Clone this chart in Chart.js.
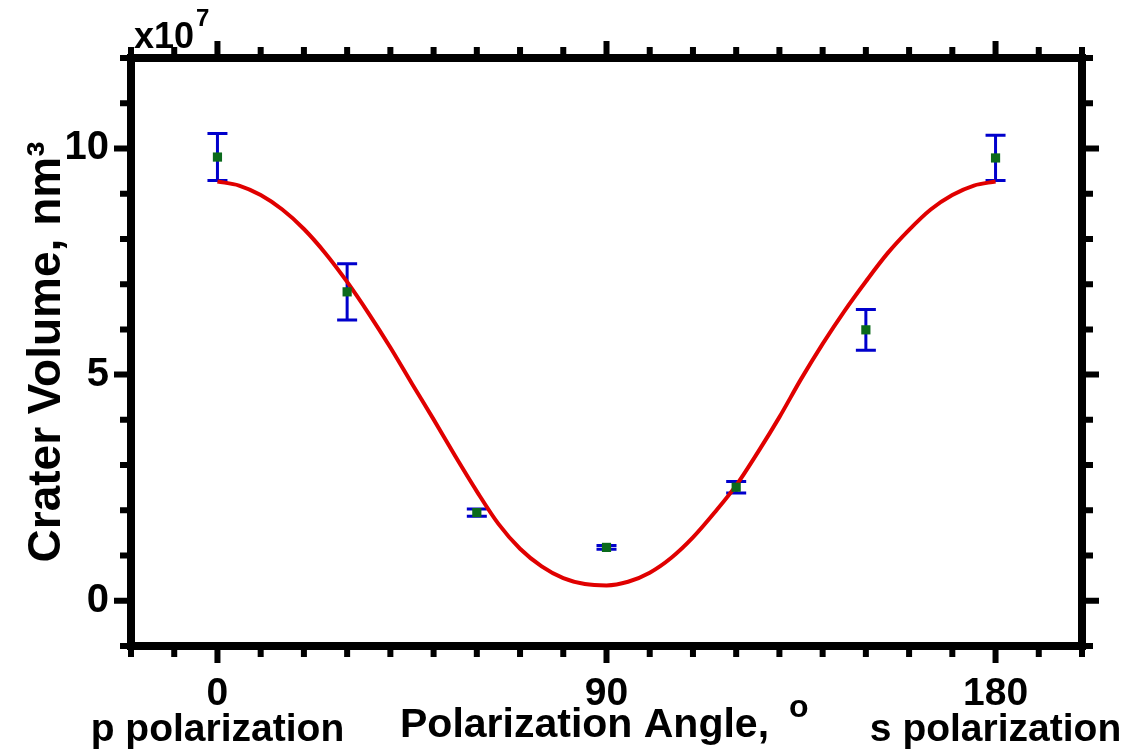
<!DOCTYPE html>
<html><head><meta charset="utf-8">
<script src="https://cdn.jsdelivr.net/npm/chart.js@4.4.0/dist/chart.umd.min.js"></script>
<style>html,body{margin:0;padding:0;background:#fff;}canvas{display:block;}</style>
</head><body>
<canvas id="c" width="1127" height="749"></canvas>
<script>
// ---- data ----
const angles = [0, 30, 60, 90, 120, 150, 180];
const volume = [9.81, 6.83, 1.95, 1.18, 2.51, 5.99, 9.79];      // x10^7 nm^3
const volumeErr = [0.52, 0.62, 0.08, 0.04, 0.125, 0.45, 0.50];

const fitAngles = [0,5,10,15,20,25,30,35,40,45,50,55,60,65,70,75,80,85,90,
                   95,100,105,110,115,120,125,130,135,140,145,150,155,160,165,170,175,180];
const fitVolume = [9.27,9.18,8.97,8.65,8.22,7.68,7.05,6.35,5.60,4.80,4.01,3.20,2.42,1.70,1.15,0.76,0.50,0.37,0.34,
                   0.42,0.62,0.95,1.40,1.95,2.55,3.28,4.06,4.90,5.68,6.40,7.06,7.68,8.20,8.65,8.97,9.18,9.27];

const xTickValues = [0, 90, 180];
const xTickLabels = ['0', '90', '180'];
const xTickSubLabels = ['p polarization', '', 's polarization'];
const yTickValues = [0, 5, 10];
const yTickLabels = ['0', '5', '10'];
const xRange = [-20, 200];
const yRange = [-1, 12];
const xMinorStep = 10;
const yMinorStep = 1;

const xTitle = 'Polarization Angle,';
const xTitleSup = 'o';
const yTitle = 'Crater Volume, nm\u00B3';
const scaleText = 'x10';
const scaleSup = '7';

const FONT = '"Liberation Sans", Arial, Helvetica, sans-serif';

const decorPlugin = {
  id: 'decor',
  beforeDatasetsDraw(chart) {
    const {ctx, scales: {x, y}} = chart;
    ctx.save();
    ctx.strokeStyle = '#0000cc';
    ctx.lineWidth = 3;
    angles.forEach((a, i) => {
      const px = x.getPixelForValue(a);
      const top = y.getPixelForValue(volume[i] + volumeErr[i]);
      const bot = y.getPixelForValue(volume[i] - volumeErr[i]);
      ctx.beginPath();
      ctx.moveTo(px, top); ctx.lineTo(px, bot);
      ctx.moveTo(px - 10, top); ctx.lineTo(px + 10, top);
      ctx.moveTo(px - 10, bot); ctx.lineTo(px + 10, bot);
      ctx.stroke();
    });
    ctx.restore();
  },
  afterDraw(chart) {
    const {ctx, chartArea: ca, scales: {x, y}} = chart;
    ctx.save();
    ctx.strokeStyle = '#000';
    ctx.lineWidth = 8;
    ctx.strokeRect(ca.left, ca.top, ca.right - ca.left, ca.bottom - ca.top);
    ctx.lineWidth = 6;
    const half = 4;
    for (let v = xRange[0]; v <= xRange[1] + 1e-9; v += xMinorStep) {
      const px = x.getPixelForValue(v);
      const len = xTickValues.includes(v) ? 13 : 7;
      ctx.beginPath();
      ctx.moveTo(px, ca.bottom); ctx.lineTo(px, ca.bottom + half + len);
      ctx.moveTo(px, ca.top); ctx.lineTo(px, ca.top - half - len);
      ctx.stroke();
    }
    for (let v = yRange[0]; v <= yRange[1] + 1e-9; v += yMinorStep) {
      const py = y.getPixelForValue(v);
      const len = yTickValues.includes(v) ? 13 : 7;
      ctx.beginPath();
      ctx.moveTo(ca.left, py); ctx.lineTo(ca.left - half - len, py);
      ctx.moveTo(ca.right, py); ctx.lineTo(ca.right + half + len, py);
      ctx.stroke();
    }
    // x axis title
    ctx.fillStyle = '#000';
    ctx.textBaseline = 'alphabetic';
    ctx.textAlign = 'left';
    ctx.font = 'bold 41px ' + FONT;
    const tx = 400, ty = 737;
    ctx.fillText(xTitle, tx, ty);
    const w = ctx.measureText(xTitle).width;
    ctx.font = 'bold 32px ' + FONT;
    ctx.fillText(xTitleSup, tx + w + 20, 717);
    // scale multiplier
    ctx.font = 'bold 36px ' + FONT;
    ctx.fillText(scaleText, 134, 48);
    const w2 = ctx.measureText(scaleText).width;
    ctx.font = 'bold 24px ' + FONT;
    ctx.fillText(scaleSup, 134 + w2 + 2, 26);
    ctx.restore();
  }
};

new Chart(document.getElementById('c'), {
  type: 'scatter',
  data: {
    datasets: [
      {
        label: 'fit',
        data: fitAngles.map((a, i) => ({x: a, y: fitVolume[i]})),
        showLine: true,
        borderColor: '#e00000',
        borderWidth: 4,
        pointRadius: 0,
        cubicInterpolationMode: 'monotone',
        order: 2
      },
      {
        label: 'measured',
        data: angles.map((a, i) => ({x: a, y: volume[i]})),
        pointStyle: 'rect',
        pointRadius: 6.5,
        backgroundColor: '#0b6a1c',
        borderColor: '#0b6a1c',
        borderWidth: 0,
        order: 1
      }
    ]
  },
  options: {
    responsive: false,
    animation: false,
    devicePixelRatio: 1,
    layout: {padding: {top: 58, right: 45, left: 0, bottom: 0}},
    plugins: {legend: {display: false}, tooltip: {enabled: false}},
    scales: {
      x: {
        type: 'linear', min: xRange[0], max: xRange[1],
        afterFit(a) { a.height = 103; a.paddingLeft = 0; a.paddingRight = 0; },
        afterBuildTicks(a) { a.ticks = xTickValues.map(v => ({value: v})); },
        grid: {display: false},
        border: {display: false},
        ticks: {
          autoSkip: false, maxRotation: 0, color: '#000', padding: 22,
          font: {family: FONT, size: 39, weight: 'bold', lineHeight: 0.92},
          callback(v) { const i = xTickValues.indexOf(v); return [xTickLabels[i], xTickSubLabels[i]]; }
        }
      },
      y: {
        type: 'linear', min: yRange[0], max: yRange[1],
        afterFit(a) { a.width = 131; a.paddingTop = 0; a.paddingBottom = 0; },
        afterBuildTicks(a) { a.ticks = yTickValues.map(v => ({value: v})); },
        grid: {display: false},
        border: {display: false},
        ticks: {
          color: '#000', padding: 14,
          font: {family: FONT, size: 40, weight: 'bold'},
          callback(v) { return yTickLabels[yTickValues.indexOf(v)]; }
        },
        title: {
          display: true, text: yTitle, color: '#000',
          font: {family: FONT, size: 46, weight: 'bold'},
          padding: {top: 20, bottom: 0}
        }
      }
    }
  },
  plugins: [decorPlugin]
});
</script>
</body></html>
